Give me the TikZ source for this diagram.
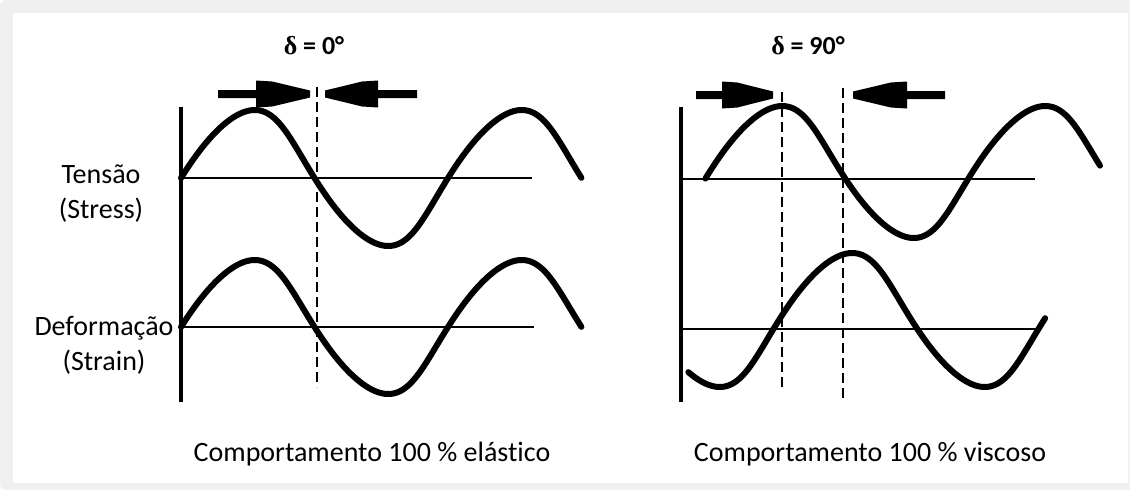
\documentclass[tikz,border=0pt]{standalone}
\usepackage{fontspec}
\setmainfont[Ligatures=CommonOff]{Carlito}
\newfontfamily\deltafont{Liberation Serif}
\definecolor{framegray}{HTML}{F0F0F0}
\tikzset{
  wave/.style={line width=6pt, line cap=round, line join=round, samples=200, variable=\t},
  axisline/.style={line width=3.5pt},
  zeroline/.style={line width=1.8pt},
  guide/.style={line width=1.4pt, dash pattern=on 10pt off 5pt},
  lbl/.style={font=\fontsize{28}{35}\selectfont, inner sep=0pt, align=center},
  ttl/.style={font=\fontsize{26}{30}\selectfont\bfseries, inner sep=0pt},
  pics/fatarrow/.style args={#1/#2}{code={
    \fill (0,-4) -- (#1,-4) -- (#1,-13.5) -- (#1+0.3*#2,-12.5) -- (#1+#2,-3.5) -- (#1+#2,3.5)
          -- (#1+0.3*#2,12.5) -- (#1,13.5) -- (#1,4) -- (0,4) -- cycle;}}
}
\begin{document}
\begin{tikzpicture}[x=1pt,y=-1pt]
\useasboundingbox (0,0) rectangle (1130,490);
\fill[framegray, rounded corners=6pt] (0,0) rectangle (1140,490);
\fill[white] (13,13) rectangle (1128,483);

% ---------- left panel (elastic) ----------
\coordinate (LaxT) at (181,107);
\coordinate (LaxB) at (181,402);
\coordinate (LsA) at (181,178);
\coordinate (LsB) at (532,178);
\coordinate (LeA) at (181,327);
\coordinate (LeB) at (534,327);
\coordinate (LgT) at (317,87);
\coordinate (LgB) at (317,387);
\draw[zeroline] (LsA) -- (LsB);
\draw[zeroline] (LeA) -- (LeB);
\draw[guide] (LgT) -- (LgB);
\draw[wave] plot[domain=0:3*pi] ({181+267*\t/(2*pi)+7*sin(\t r)^2},{178-68*sin(\t r)});
\draw[wave] plot[domain=0:3*pi] ({181+267*\t/(2*pi)+7*sin(\t r)^2},{327-67*sin(\t r)});
\draw[axisline] (LaxT) -- (LaxB);

\coordinate (La1) at (218,94);
\coordinate (La3) at (417,94);
\pic (LarrR) at (La1) {fatarrow=38/54};
\pic[xscale=-1] (LarrL) at (La3) {fatarrow=39/53};

\node[ttl] (d0) at (314,46) {{\deltafont δ} = 0°};
\node[lbl] (stress) at (101,194) {Tensão\\(Stress)};
\node[lbl] (strain) at (104,345) {Deformação\\(Strain)};
\node[lbl] (cap1) at (372,454) {Comportamento 100 \% elástico};

% ---------- right panel (viscous) ----------
\coordinate (RaxT) at (681,107);
\coordinate (RaxB) at (681,402);
\coordinate (RsA) at (681,179);
\coordinate (RsB) at (1035,179);
\coordinate (ReA) at (681,329);
\coordinate (ReB) at (1037,329);
\coordinate (Rg1T) at (782,92);
\coordinate (Rg1B) at (782,387);
\coordinate (Rg2T) at (843,88);
\coordinate (Rg2B) at (843,398);
\draw[zeroline] (RsA) -- (RsB);
\draw[zeroline] (ReA) -- (ReB);
\draw[guide] (Rg1T) -- (Rg1B);
\draw[guide] (Rg2T) -- (Rg2B);
\draw[wave] plot[domain=-0.1:9.33] ({709.5+263*\t/(2*pi)+7*sin(\t r)^2},{172-66*sin(\t r)});
\draw[wave] plot[domain=-2.25:6.31] ({779+265*\t/(2*pi)+7*sin(\t r)^2},{320-67*sin(\t r)});
\draw[axisline] (RaxT) -- (RaxB);

\coordinate (Ra1) at (696,95);
\coordinate (Ra3) at (945,95);
\pic (RarrR) at (Ra1) {fatarrow=26/51};
\pic[xscale=-1] (RarrL) at (Ra3) {fatarrow=38/54};

\node[ttl] (d90) at (808,46) {{\deltafont δ} = 90°};
\node[lbl] (cap2) at (870,454) {Comportamento 100 \% viscoso};
\end{tikzpicture}
\end{document}
